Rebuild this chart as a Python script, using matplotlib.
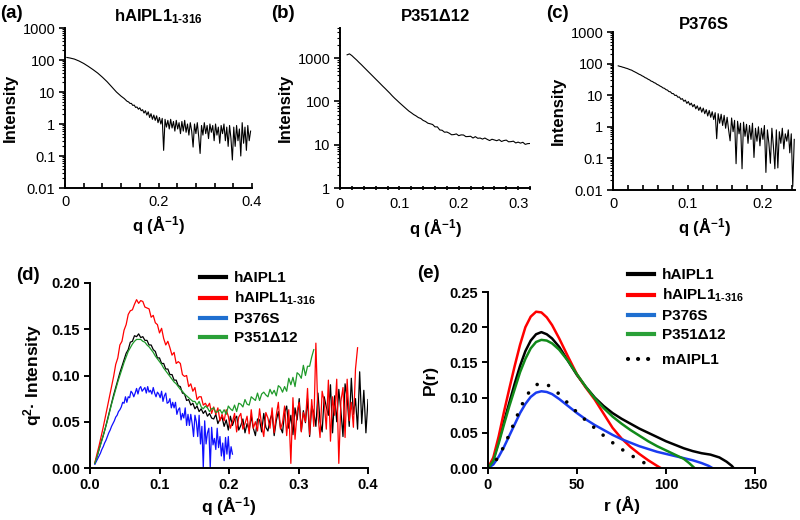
import numpy as np
import matplotlib
matplotlib.use('Agg')
import matplotlib.pyplot as plt
from matplotlib.lines import Line2D
from matplotlib.ticker import FixedLocator, FixedFormatter, MultipleLocator, LogLocator, NullFormatter

plt.rcParams['font.family'] = ['Liberation Sans', 'DejaVu Sans']
plt.rcParams['mathtext.fontset'] = 'custom'
plt.rcParams['mathtext.rm'] = 'Liberation Sans'
plt.rcParams['mathtext.bf'] = 'Liberation Sans:bold'
plt.rcParams['mathtext.it'] = 'Liberation Sans:italic'
plt.rcParams['mathtext.fallback'] = 'stixsans'

# ---------------- data ----------------
# (a) hAIPL1 1-316 scattering
a_q_smooth = [0.004, 0.01, 0.02, 0.03, 0.04, 0.05, 0.06, 0.07, 0.08, 0.09, 0.10, 0.11, 0.12, 0.127]
a_I_smooth = [120, 116, 107, 93, 78, 63, 50, 39, 29, 21, 14.5, 10, 7.4, 6.2]
a_q0, a_step = 0.130, 0.003
a_I_noisy = [5.6, 5.1, 4.9, 4.4, 4.4, 3.8, 3.9, 3.3, 3.4, 2.9, 3.2, 2.6, 2.8, 2.2, 2.6, 1.9, 2.4, 1.6, 2.1, 1.4,
             1.9, 1.3, 1.8, 1.1, 1.6, 1.0, 1.5, 0.15, 1.4, 0.8, 1.3, 0.7, 1.4, 0.75, 1.2, 0.6, 1.3, 0.7, 1.1, 0.5,
             1.2, 0.6, 1.3, 0.55, 1.0, 0.45, 1.1, 0.6, 0.19, 1.0, 0.5, 1.1, 0.4, 0.12, 0.9, 0.45, 1.1, 0.5, 0.9, 0.35,
             1.0, 0.55, 0.9, 0.3, 1.0, 0.45, 0.8, 0.25, 0.9, 0.5, 1.0, 0.3, 0.8, 0.2, 0.9, 0.35, 0.075, 0.8, 0.2, 0.9,
             0.3, 0.7, 0.1, 1.1, 0.25, 0.8, 0.15, 0.9, 0.3, 0.6]

# (b) P351d12 scattering
b_q0, b_step = 0.012, 0.004
b_I = [1200, 1260, 1150, 1020, 910, 800, 710, 624, 550, 484, 427, 376, 331, 292, 257, 226, 200, 176, 155, 135,
       119, 106, 94, 84, 75, 67, 60, 55, 50, 46.5, 42.5, 40.5, 36.5, 34.5, 31.5, 30.5, 29.4, 25.9, 25.9, 22.0,
       21.6, 19.5, 19.7, 18.5, 17.0, 17.2, 17.8, 16.2, 16.9, 16.8, 15.4, 15.5, 15.7, 14.3, 15.4, 14.1, 14.3, 13.5,
       14.3, 13.3, 12.5, 13.4, 12.9, 12.4, 13.1, 11.9, 12.5, 12.8, 11.7, 11.8, 12.1, 11.0, 11.5, 10.9, 11.4, 10.2,
       10.6, 10.7]

# (c) P376S scattering
c_q0, c_step = 0.007, 0.002
c_I = [85, 82, 80, 77, 75, 72, 70, 67, 64, 62, 58, 55, 52, 49, 46, 44, 41, 39, 36, 34.5,
       32, 30.5, 28, 27, 25, 24, 22, 21, 19.5, 18.5, 17, 16.5, 15, 14.5, 13, 12.8, 11.3, 11.2, 9.8, 10.0,
       8.6, 8.8, 7.4, 7.8, 6.4, 7.0, 5.5, 6.3, 4.9, 5.6, 4.3, 5.1, 3.7, 4.6, 3.3, 4.2, 2.9, 3.9, 2.6, 3.5,
       2.2, 3.3, 2.0, 3.0, 1.7, 2.8, 0.42, 2.6, 1.3, 2.5, 1.1, 2.3, 0.9, 2.0, 0.8, 0.36, 1.9, 0.7, 1.6, 0.068,
       1.5, 0.6, 1.3, 0.047, 1.4, 0.5, 1.2, 0.3, 1.1, 0.4, 1.3, 0.107, 0.9, 0.35, 1.0, 0.25, 0.9, 0.4, 1.1, 0.036,
       0.8, 0.3, 0.07, 0.9, 0.25, 0.047, 0.8, 0.05, 0.7, 0.3, 0.9, 0.2, 0.6, 0.35, 0.8, 0.15, 0.6, 0.013, 0.4]

# (d) Kratky plots
d_q0 = 0.007
d_step = 0.003
d_step_blue = 0.002
d_black = [0.005, 0.012, 0.020, 0.028, 0.035, 0.043, 0.052, 0.061, 0.070, 0.079, 0.087, 0.095, 0.103, 0.110, 0.117,
           0.124, 0.128, 0.136, 0.137, 0.143, 0.142, 0.145, 0.141, 0.142, 0.138, 0.138, 0.133, 0.133, 0.128, 0.126,
           0.119, 0.119, 0.113, 0.113, 0.107, 0.107, 0.101, 0.101, 0.095, 0.095, 0.089, 0.088, 0.081, 0.080, 0.073,
           0.074, 0.068, 0.070, 0.064, 0.067, 0.061, 0.064, 0.059, 0.062, 0.056, 0.059, 0.054,
           0.053, 0.058, 0.048, 0.053, 0.055, 0.045, 0.052, 0.041, 0.056, 0.046, 0.053, 0.056, 0.041, 0.046, 0.053,
           0.038, 0.048, 0.041, 0.056, 0.043, 0.035, 0.053, 0.052, 0.039, 0.059, 0.044, 0.040, 0.052, 0.059, 0.035,
           0.051, 0.061, 0.044, 0.038, 0.060, 0.067, 0.043, 0.057, 0.036, 0.065, 0.052, 0.075, 0.040, 0.062, 0.049,
           0.075, 0.034, 0.067, 0.060, 0.045, 0.081, 0.050, 0.039, 0.077, 0.066, 0.057, 0.090, 0.038, 0.078, 0.050,
           0.085, 0.062, 0.034, 0.091, 0.076, 0.045, 0.097, 0.058, 0.075, 0.042, 0.104, 0.048, 0.084, 0.038, 0.074]
d_red = [0.006, 0.015, 0.024, 0.034, 0.044, 0.055, 0.066, 0.077, 0.088, 0.099, 0.112, 0.119, 0.133, 0.137, 0.149,
         0.155, 0.166, 0.170, 0.171, 0.177, 0.182, 0.178, 0.181, 0.180, 0.174, 0.173, 0.172, 0.163, 0.165, 0.157,
         0.155, 0.146, 0.151, 0.140, 0.133, 0.137, 0.130, 0.122, 0.125, 0.113, 0.115, 0.113, 0.101, 0.099, 0.100,
         0.088, 0.091, 0.083, 0.087, 0.074, 0.077, 0.077, 0.068, 0.070, 0.066, 0.070, 0.059,
         0.066, 0.058, 0.065, 0.051, 0.058, 0.051, 0.063, 0.056, 0.043, 0.050, 0.059, 0.039, 0.055, 0.059, 0.042,
         0.048, 0.056, 0.037, 0.063, 0.043, 0.050, 0.040, 0.064, 0.046, 0.034, 0.060, 0.054, 0.043, 0.065, 0.038,
         0.057, 0.071, 0.042, 0.049, 0.067, 0.035, 0.063, 0.005, 0.076, 0.031, 0.061, 0.071, 0.039, 0.060, 0.050,
         0.086, 0.036, 0.074, 0.045, 0.135, 0.057, 0.033, 0.083, 0.072, 0.042, 0.095, 0.029, 0.077, 0.057, 0.096,
         0.005, 0.072, 0.087, 0.033, 0.096, 0.051, 0.071, 0.044, 0.107, 0.130]
d_green = [0.005, 0.012, 0.020, 0.027, 0.035, 0.043, 0.051, 0.060, 0.069, 0.077, 0.085, 0.093, 0.100, 0.107, 0.114,
           0.120, 0.126, 0.130, 0.134, 0.137, 0.139, 0.139, 0.139, 0.137, 0.136, 0.133, 0.131, 0.128, 0.125, 0.121,
           0.118, 0.115, 0.112, 0.108, 0.105, 0.102, 0.099, 0.096, 0.093, 0.091, 0.088, 0.085, 0.083, 0.080, 0.078,
           0.076, 0.074, 0.072, 0.072, 0.068, 0.072, 0.066, 0.064, 0.067, 0.065, 0.061, 0.064, 0.065, 0.060, 0.061,
           0.063, 0.059, 0.063, 0.058, 0.067, 0.064, 0.062, 0.068, 0.061, 0.070, 0.069, 0.066, 0.074, 0.069, 0.068,
           0.077, 0.075, 0.073, 0.081, 0.073, 0.080, 0.082, 0.079, 0.077, 0.085, 0.080, 0.084, 0.078, 0.089, 0.087,
           0.082, 0.088, 0.083, 0.097, 0.090, 0.098, 0.088, 0.103, 0.101, 0.097, 0.111, 0.100, 0.110, 0.110, 0.120,
           0.128]
d_blue = [0.004, 0.007, 0.010, 0.013, 0.016, 0.020, 0.023, 0.027, 0.030, 0.034, 0.038, 0.041, 0.045, 0.048, 0.051,
          0.055, 0.057, 0.061, 0.063, 0.066, 0.071, 0.070, 0.077, 0.071, 0.077, 0.076, 0.083, 0.081, 0.077, 0.081,
          0.086, 0.080, 0.086, 0.088, 0.083, 0.085, 0.087, 0.081, 0.088, 0.082, 0.084, 0.080, 0.087, 0.081, 0.077,
          0.082, 0.080, 0.076, 0.083, 0.072, 0.078, 0.081, 0.070, 0.071, 0.075, 0.065, 0.071, 0.065, 0.071, 0.058,
          0.063, 0.065, 0.052, 0.059, 0.054, 0.065, 0.046, 0.058, 0.046, 0.058, 0.048, 0.034, 0.057, 0.050, 0.034,
          0.057, 0.026, 0.045, 0.000, 0.051, 0.026, 0.038, 0.043, 0.000, 0.044, 0.025, 0.032, 0.020, 0.043, 0.022,
          0.034, 0.013, 0.027, 0.008, 0.033, 0.015, 0.034, 0.010, 0.023, 0.015]

# (e) pair distance distributions
e_r_black = [0, 3, 6, 9, 12, 15, 18, 21, 24, 27, 30, 33, 36, 40, 45, 50, 55, 60, 65, 70, 75, 80, 85, 90, 95, 100,
             105, 110, 115, 120, 125, 130, 134, 137, 138]
e_p_black = [0, 0.012, 0.038, 0.066, 0.093, 0.120, 0.145, 0.166, 0.181, 0.190, 0.193, 0.190, 0.184, 0.172, 0.152,
             0.132, 0.115, 0.100, 0.088, 0.078, 0.070, 0.063, 0.056, 0.050, 0.044, 0.038, 0.033, 0.028, 0.024, 0.021,
             0.019, 0.015, 0.009, 0.003, 0]
e_r_red = [0, 3, 6, 9, 12, 15, 18, 21, 24, 27, 30, 33, 36, 40, 45, 50, 55, 60, 65, 70, 75, 80, 85, 90, 95, 97]
e_p_red = [0, 0.015, 0.045, 0.080, 0.113, 0.145, 0.175, 0.200, 0.215, 0.222, 0.221, 0.214, 0.203, 0.184, 0.158,
           0.133, 0.114, 0.097, 0.077, 0.057, 0.042, 0.030, 0.020, 0.011, 0.003, 0]
e_r_blue = [0, 3, 6, 9, 12, 15, 18, 21, 24, 27, 30, 33, 36, 40, 45, 50, 55, 60, 65, 70, 75, 80, 85, 90, 95, 100,
            105, 110, 115, 120, 124, 126]
e_p_blue = [0, 0.005, 0.016, 0.030, 0.046, 0.062, 0.078, 0.091, 0.101, 0.107, 0.109, 0.108, 0.105, 0.098, 0.088,
            0.078, 0.069, 0.061, 0.054, 0.047, 0.041, 0.036, 0.031, 0.027, 0.023, 0.020, 0.017, 0.014, 0.011, 0.007,
            0.003, 0]
e_r_green = [0, 3, 6, 9, 12, 15, 18, 21, 24, 27, 30, 33, 36, 40, 45, 50, 55, 60, 65, 70, 75, 80, 85, 90, 95, 100,
             105, 110, 113, 116]
e_p_green = [0, 0.010, 0.035, 0.062, 0.088, 0.112, 0.136, 0.155, 0.170, 0.179, 0.182, 0.181, 0.177, 0.168, 0.152,
             0.133, 0.115, 0.099, 0.085, 0.073, 0.063, 0.054, 0.046, 0.038, 0.031, 0.025, 0.019, 0.013, 0.007, 0]
e_r_mouse = [0, 3, 6, 9, 12, 15, 18, 21, 24, 27, 30, 33, 38, 43, 48, 53, 58, 63, 68, 73, 78, 83, 88, 93]
e_p_mouse = [0, 0.005, 0.017, 0.031, 0.048, 0.066, 0.084, 0.100, 0.111, 0.118, 0.121, 0.119, 0.110, 0.097, 0.084,
             0.072, 0.061, 0.050, 0.040, 0.030, 0.022, 0.014, 0.007, 0]

legend_labels = ['hAIPL1', 'hAIPL1$_{\\mathbf{1\u2010316}}$', 'P376S', 'P351\u039412', 'mAIPL1']
C_BLACK, C_RED, C_BLUE, C_GREEN = '#000000', '#ff0000', '#1010ff', '#1f9a2a'
C_BLUE_E = '#1a3cf0'

# ---------------- figure ----------------
W, H = 800, 520
fig = plt.figure(figsize=(8, 5.2), dpi=100)


def rect(l, r, t, b):
    return [l / W, 1 - b / H, (r - l) / W, (b - t) / H]


def style_axes(ax, bold=False):
    for s in ['top', 'right']:
        ax.spines[s].set_visible(False)
    for s in ['left', 'bottom']:
        ax.spines[s].set_linewidth(1.4)
    for lab in ax.get_xticklabels() + ax.get_yticklabels():
        lab.set_fontsize(10.5)
        if bold:
            lab.set_fontweight('bold')


def grid(q0, step, n):
    return q0 + step * np.arange(n)


def log_panel(ax, q, I, xlim, ylim, xt, xtl, yt, ytl, xminor, tickdir):
    ax.plot(q, I, color='black', lw=0.8)
    ax.set_yscale('log')
    ax.set_xlim(*xlim)
    ax.set_ylim(*ylim)
    ax.xaxis.set_major_locator(FixedLocator(xt))
    ax.xaxis.set_major_formatter(FixedFormatter(xtl))
    ax.xaxis.set_minor_locator(MultipleLocator(xminor))
    ax.yaxis.set_major_locator(FixedLocator(yt))
    ax.yaxis.set_major_formatter(FixedFormatter(ytl))
    ax.yaxis.set_minor_locator(LogLocator(base=10, subs=np.arange(2, 10)))
    ax.yaxis.set_minor_formatter(NullFormatter())
    ax.tick_params(axis='x', which='both', direction=tickdir, length=3.5, width=1.2, pad=5)
    ax.tick_params(axis='y', which='major', direction='out', length=4, width=1.2, pad=3)
    ax.tick_params(axis='y', which='minor', direction='out', length=2, width=0.8)
    style_axes(ax)
    ax.set_xlabel('q (Å$^{\\mathbf{-1}}$)', fontsize=12, fontweight='bold', labelpad=4)
    ax.set_ylabel('Intensity', fontsize=12, fontweight='bold', labelpad=3)


# (a)
axa = fig.add_axes(rect(65, 252, 28, 188))
qa = list(a_q_smooth) + list(grid(a_q0, a_step, len(a_I_noisy)))
Ia = list(a_I_smooth) + list(a_I_noisy)
log_panel(axa, qa, Ia, (0, 0.4), (0.01, 1000), [0, 0.2, 0.4], ['0', '0.2', '0.4'],
          [0.01, 0.1, 1, 10, 100, 1000], ['0.01', '0.1', '1', '10', '100', '1000'], 0.04, 'in')
axa.set_title('hAIPL1$_{\\mathbf{1\u2010316}}$', fontsize=12, fontweight='bold', pad=5)

# (b)
axb = fig.add_axes(rect(340, 530, 28, 188))
log_panel(axb, grid(b_q0, b_step, len(b_I)), b_I, (0, 0.32), (1, 5000), [0, 0.1, 0.2, 0.3],
          ['0', '0.1', '0.2', '0.3'], [1, 10, 100, 1000], ['1', '10', '100', '1000'], 0.02, 'inout')
axb.set_title('P351\u039412', fontsize=12, fontweight='bold', pad=5)

# (c)
axc = fig.add_axes(rect(613, 795, 32, 190))
log_panel(axc, grid(c_q0, c_step, len(c_I)), c_I, (0, 0.244), (0.01, 1000), [0, 0.1, 0.2],
          ['0', '0.1', '0.2'], [0.01, 0.1, 1, 10, 100, 1000], ['0.01', '0.1', '1', '10', '100', '1000'], 0.02, 'in')
axc.set_title('P376S', fontsize=12, fontweight='bold', pad=2)

# (d)
axd = fig.add_axes(rect(90, 368, 283, 468))
axd.plot(grid(d_q0, d_step, len(d_black)), d_black, color=C_BLACK, lw=0.9)
axd.plot(grid(d_q0, d_step, len(d_red)), d_red, color=C_RED, lw=0.9)
axd.plot(grid(d_q0, d_step_blue, len(d_blue)), d_blue, color=C_BLUE, lw=0.9)
axd.plot(grid(d_q0, d_step, len(d_green)), d_green, color=C_GREEN, lw=0.9)
axd.set_xlim(0, 0.4)
axd.set_ylim(0, 0.2)
axd.xaxis.set_major_locator(FixedLocator([0, 0.1, 0.2, 0.3, 0.4]))
axd.xaxis.set_major_formatter(FixedFormatter(['0.0', '0.1', '0.2', '0.3', '0.4']))
axd.yaxis.set_major_locator(FixedLocator([0, 0.05, 0.1, 0.15, 0.2]))
axd.yaxis.set_major_formatter(FixedFormatter(['0.00', '0.05', '0.10', '0.15', '0.20']))
axd.tick_params(direction='out', length=4, width=1.4, pad=3)
style_axes(axd, bold=True)
axd.set_xlabel('q (Å$^{\\mathbf{-1}}$)', fontsize=12.5, fontweight='bold', labelpad=3)
axd.set_ylabel('q$^{\\mathbf{2}}$· Intensity', fontsize=12.5, fontweight='bold', labelpad=5)
hd = [Line2D([], [], color=c, lw=3) for c in [C_BLACK, C_RED, '#1f6fd0', '#2aa038']]
fig.legend(hd, legend_labels[:4], loc='upper left', bbox_to_anchor=(200 / W, 1 - 271 / H), frameon=False,
           borderpad=0, borderaxespad=0, handlelength=1.7, handletextpad=0.5, labelspacing=0.32,
           prop={'weight': 'bold', 'size': 11})

# (e)
axe = fig.add_axes(rect(488, 755, 292, 468))
axe.plot(e_r_black, e_p_black, color=C_BLACK, lw=1.8)
axe.plot(e_r_red, e_p_red, color=C_RED, lw=1.8)
axe.plot(e_r_blue, e_p_blue, color=C_BLUE_E, lw=1.8)
axe.plot(e_r_green, e_p_green, color='#118a1a', lw=1.8)
axe.plot(e_r_mouse, e_p_mouse, color='black', lw=2.6, linestyle=(0, (0.01, 3.4)), dash_capstyle='round')
axe.set_xlim(0, 150)
axe.set_ylim(0, 0.25)
axe.xaxis.set_major_locator(FixedLocator([0, 50, 100, 150]))
axe.yaxis.set_major_locator(FixedLocator([0, 0.05, 0.1, 0.15, 0.2, 0.25]))
axe.yaxis.set_major_formatter(FixedFormatter(['0.00', '0.05', '0.10', '0.15', '0.20', '0.25']))
axe.tick_params(direction='out', length=4, width=1.4, pad=3)
style_axes(axe, bold=True)
axe.set_xlabel('r (Å)', fontsize=12.5, fontweight='bold', labelpad=3)
axe.set_ylabel('P(r)', fontsize=12.5, fontweight='bold', labelpad=8)
he = [Line2D([], [], color=c, lw=3) for c in [C_BLACK, C_RED, '#1f6fd0', '#2aa038']]
fig.legend(he, legend_labels[:4], loc='upper left', bbox_to_anchor=(628 / W, 1 - 268 / H), frameon=False,
           borderpad=0, borderaxespad=0, handlelength=1.7, handletextpad=0.5, labelspacing=0.32,
           prop={'weight': 'bold', 'size': 11})
hm = [Line2D([], [], color='black', lw=3, linestyle=(0, (0.01, 2.4)), dash_capstyle='round')]
fig.legend(hm, legend_labels[4:], loc='upper left', bbox_to_anchor=(628 / W, 1 - 353 / H), frameon=False,
           borderpad=0, borderaxespad=0, handlelength=1.7, handletextpad=0.5,
           prop={'weight': 'bold', 'size': 11})

# panel labels
for txt, x, y in [('(a)', 0, 14), ('(b)', 271, 14), ('(c)', 546, 14), ('(d)', 16, 276), ('(e)', 417, 273)]:
    fig.text(x / W, 1 - y / H, txt, fontsize=13.5, fontweight='bold', va='center', ha='left')

fig.savefig('out.png', dpi=100)
